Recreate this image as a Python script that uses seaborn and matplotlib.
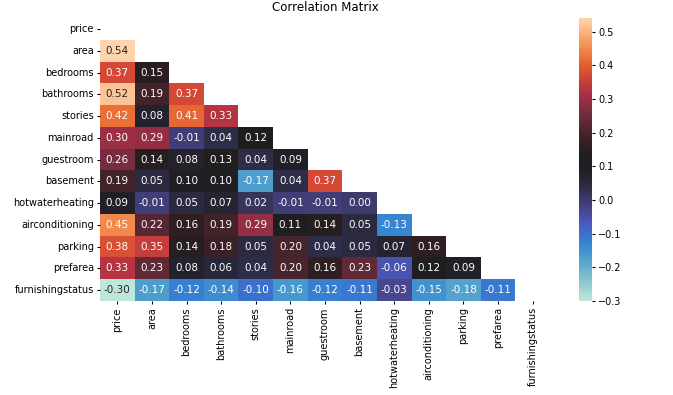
import numpy as np
import pandas as pd
import matplotlib
matplotlib.use("Agg")
import matplotlib.pyplot as plt
import seaborn as sns

features = ["price", "area", "bedrooms", "bathrooms", "stories", "mainroad",
            "guestroom", "basement", "hotwaterheating", "airconditioning",
            "parking", "prefarea", "furnishingstatus"]

# lower triangle of the correlation matrix, row by row
corr_area = [0.54]
corr_bedrooms = [0.37, 0.15]
corr_bathrooms = [0.52, 0.19, 0.37]
corr_stories = [0.42, 0.08, 0.41, 0.33]
corr_mainroad = [0.30, 0.29, -0.01, 0.04, 0.12]
corr_guestroom = [0.26, 0.14, 0.08, 0.13, 0.04, 0.09]
corr_basement = [0.19, 0.05, 0.10, 0.10, -0.17, 0.04, 0.37]
corr_hotwater = [0.09, -0.01, 0.05, 0.07, 0.02, -0.01, -0.01, 0.00]
corr_aircon = [0.45, 0.22, 0.16, 0.19, 0.29, 0.11, 0.14, 0.05, -0.13]
corr_parking = [0.38, 0.35, 0.14, 0.18, 0.05, 0.20, 0.04, 0.05, 0.07, 0.16]
corr_prefarea = [0.33, 0.23, 0.08, 0.06, 0.04, 0.20, 0.16, 0.23, -0.06, 0.12, 0.09]
corr_furnishing = [-0.30, -0.17, -0.12, -0.14, -0.10, -0.16, -0.12, -0.11, -0.03,
                   -0.15, -0.18, -0.11]

lower_rows = [[], corr_area, corr_bedrooms, corr_bathrooms, corr_stories,
              corr_mainroad, corr_guestroom, corr_basement, corr_hotwater,
              corr_aircon, corr_parking, corr_prefarea, corr_furnishing]

# build symmetric matrix
n = len(features)
mat = np.eye(n)
for i, row in enumerate(lower_rows):
    for j, v in enumerate(row):
        mat[i, j] = v
        mat[j, i] = v
corr = pd.DataFrame(mat, index=features, columns=features)

mask = np.triu(np.ones_like(mat, dtype=bool))

fig = plt.figure(figsize=(6.73, 3.95), dpi=100)
ax = fig.add_axes([0.1486, 0.238, 0.6686, 0.716])
cax = fig.add_axes([0.860, 0.238, 0.0193, 0.716])

sns.heatmap(corr, mask=mask, cmap="icefire", annot=True, fmt=".2f",
            annot_kws={"size": 7.5}, ax=ax, cbar_ax=cax)
ax.set_title("Correlation Matrix", fontsize=8.5, pad=5)
ax.tick_params(labelsize=7, length=2.5, pad=2)
cax.tick_params(labelsize=7, length=2.5, pad=2)

fig.savefig("out.png", dpi=100)
